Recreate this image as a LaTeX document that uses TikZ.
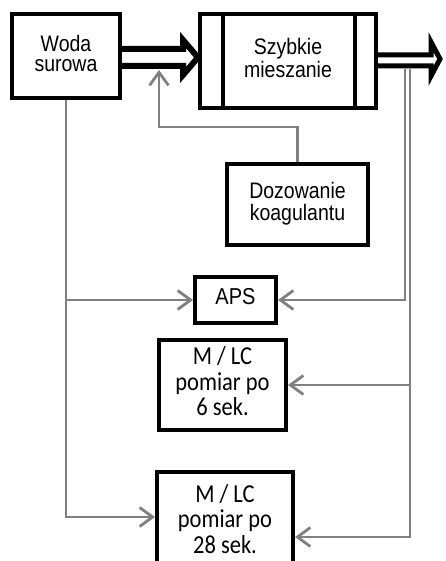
\documentclass[tikz,border=0pt]{standalone}
\usepackage{fontspec}
\usepackage{graphicx}
\usetikzlibrary{arrows.meta}
\newfontfamily\arialf{Liberation Sans}
\newfontfamily\calf{Carlito}
\newcommand{\stt}[1]{\scalebox{1}[1.15]{\begin{tabular}{@{}c@{}}#1\end{tabular}}}
\definecolor{lgray}{RGB}{128,128,128}
\tikzset{
  boxa/.style={draw=black, line width=4pt, fill=white, rectangle, inner sep=0pt, font=\arialf\fontsize{19.5}{17.5}\selectfont},
  boxc/.style={draw=black, line width=4pt, fill=white, rectangle, inner sep=0pt, font=\calf\fontsize{22.5}{22}\selectfont},
  blockarrow/.style={draw=black, fill=white, line join=miter},
  gline/.style={draw=lgray, line width=2.8pt},
  garrow/.style={gline, -{Straight Barb[length=13pt,width=19pt,line width=2.8pt]}}
}
\begin{document}
\begin{tikzpicture}[x=1pt,y=-1pt]
\useasboundingbox (0,0) rectangle (445,561);
% boxes
\node[boxa, minimum width=108pt, minimum height=84pt] (woda) at (66,56) {\stt{Woda\\surowa}};
\node[boxa, minimum width=176pt, minimum height=94pt] (szyb) at (288,61) {\stt{Szybkie\\mieszanie}};
\draw[line width=4pt] ([xshift=24.5pt]szyb.north west) -- ([xshift=24.5pt]szyb.south west);
\draw[line width=4pt] ([xshift=-23.5pt]szyb.north east) -- ([xshift=-23.5pt]szyb.south east);
\node[boxa, minimum width=141pt, minimum height=81pt] (doz) at (297.5,204.5) {\stt{Dozowanie\\koagulantu}};
\node[boxa, minimum width=81pt, minimum height=46pt, font=\arialf\fontsize{20}{18}\selectfont] (aps) at (235.5,300) {\stt{APS}};
\node[boxc, minimum width=127pt, minimum height=90pt] (mlc6) at (222.5,385) {\stt{M / LC\\pomiar po\\6 sek.}};
\node[boxc, minimum width=136pt, minimum height=101pt] (mlc28) at (225,522.5) {\stt{M / LC\\pomiar po\\28 sek.}};
% block arrows
\draw[blockarrow, line width=6pt] (122,49) -- (183,49) -- (183,40) -- (198,57.5) -- (183,75) -- (183,66) -- (122,66);
\draw[blockarrow, line width=5pt] (378,55) -- (431,55) -- (431,42) -- (440,59) -- (431,76) -- (431,66) -- (378,66);
% coordinates
\coordinate (dtip) at (159,70);
\coordinate (dbend) at (159,127);
\coordinate (o1) at (405,69);
\coordinate (o2) at (410,69);
% grey connectors
\draw[garrow] (woda.south) |- (aps.west);
\draw[garrow] (woda.south) |- ([yshift=5.5pt]mlc28.west);
\draw[garrow] (doz.north) |- (dbend) -- (dtip);
\draw[garrow] (o1) |- (aps.east);
\draw[garrow] (o2) |- (mlc6.east);
\draw[garrow] (o2) |- ([yshift=-14.5pt]mlc28.east);
\end{tikzpicture}
\end{document}
